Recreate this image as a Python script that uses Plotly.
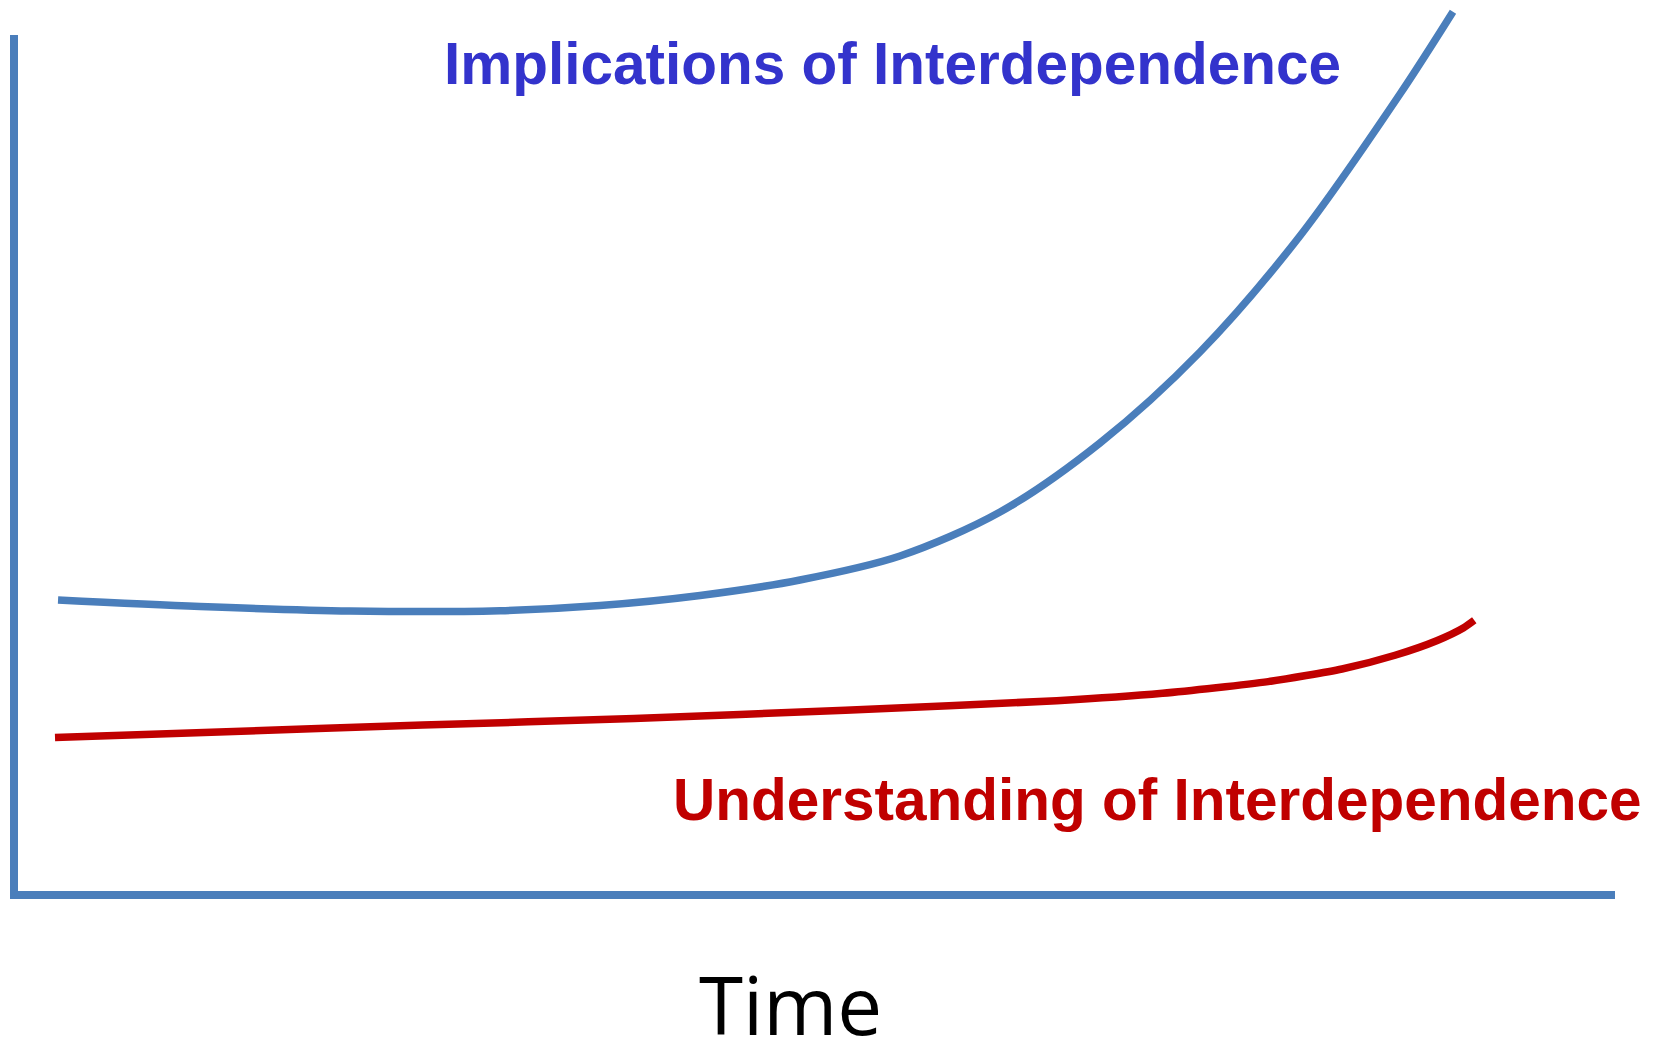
import plotly.graph_objects as go

# Data (arbitrary units: time 0-100, level 0-100)
implications_time = [2.75, 11.62, 20.99, 30.36, 36.60, 42.85, 49.09, 55.34, 61.59, 67.83, 74.08, 80.32, 86.57, 89.88]
implications_level = [34.30, 33.55, 33.02, 33.06, 33.66, 34.83, 36.63, 39.42, 44.53, 52.56, 63.14, 76.63, 93.14, 102.71]

understanding_time = [2.56, 12.33, 25.53, 38.73, 51.93, 65.13, 71.74, 78.34, 82.95, 86.26, 88.90, 90.55, 91.21]
understanding_level = [18.30, 18.91, 19.77, 20.51, 21.49, 22.59, 23.45, 24.81, 26.28, 27.88, 29.60, 31.08, 31.94]

label_implications = "Implications of Interdependence"
label_understanding = "Understanding of Interdependence"
x_title = "Time"

W, H = 1657, 1039
# layout geometry (pixels)
x0_px, x100_px = 14, 1615
y0_px, y100_px = 895, 35
px_per_x = (x100_px - x0_px) / 100.0
px_per_y = (y0_px - y100_px) / 100.0
x_range = [-x0_px / px_per_x, (W - x0_px) / px_per_x]
y_range = [-(H - y0_px) / px_per_y, y0_px / px_per_y]

AXIS_BLUE = "#4A7EBB"
RED = "#C00000"
TEXT_BLUE = "#3333CC"

fig = go.Figure()
fig.add_trace(go.Scatter(x=implications_time, y=implications_level, mode="lines",
                         line=dict(color=AXIS_BLUE, width=7.5, shape="spline", smoothing=0.9),
                         hoverinfo="skip", showlegend=False))
fig.add_trace(go.Scatter(x=understanding_time, y=understanding_level, mode="lines",
                         line=dict(color=RED, width=7.5, shape="spline", smoothing=0.6),
                         hoverinfo="skip", showlegend=False))

# axis lines
fig.add_shape(type="line", x0=0, y0=-0.45, x1=0, y1=100, line=dict(color=AXIS_BLUE, width=8))
fig.add_shape(type="line", x0=-0.25, y0=0, x1=100, y1=0, line=dict(color=AXIS_BLUE, width=8))

bold_font = "Liberation Sans, Arial, sans-serif"
fig.add_annotation(text=label_implications, xref="paper", yref="paper",
                   x=892 / W, y=1 - 63 / H, xanchor="center", yanchor="middle", showarrow=False,
                   font=dict(family=bold_font, size=58.5, color=TEXT_BLUE, weight="bold"))
fig.add_annotation(text=label_understanding, xref="paper", yref="paper",
                   x=1157 / W, y=1 - 799 / H, xanchor="center", yanchor="middle", showarrow=False,
                   font=dict(family=bold_font, size=58.5, color=RED, weight="bold"))
fig.add_annotation(text=x_title, xref="paper", yref="paper",
                   x=790 / W, y=1 - 1003 / H, xanchor="center", yanchor="middle", showarrow=False,
                   font=dict(family="Open Sans, Noto Sans, sans-serif", size=80, color="black"))

fig.update_layout(width=W, height=H, margin=dict(l=0, r=0, t=0, b=0),
                  paper_bgcolor="white", plot_bgcolor="white",
                  xaxis=dict(range=x_range, visible=False, fixedrange=True),
                  yaxis=dict(range=y_range, visible=False, fixedrange=True))

fig.write_html("out.html", config={"displayModeBar": False},
               post_script="document.body.style.margin='0px'; document.body.style.overflow='hidden';")
